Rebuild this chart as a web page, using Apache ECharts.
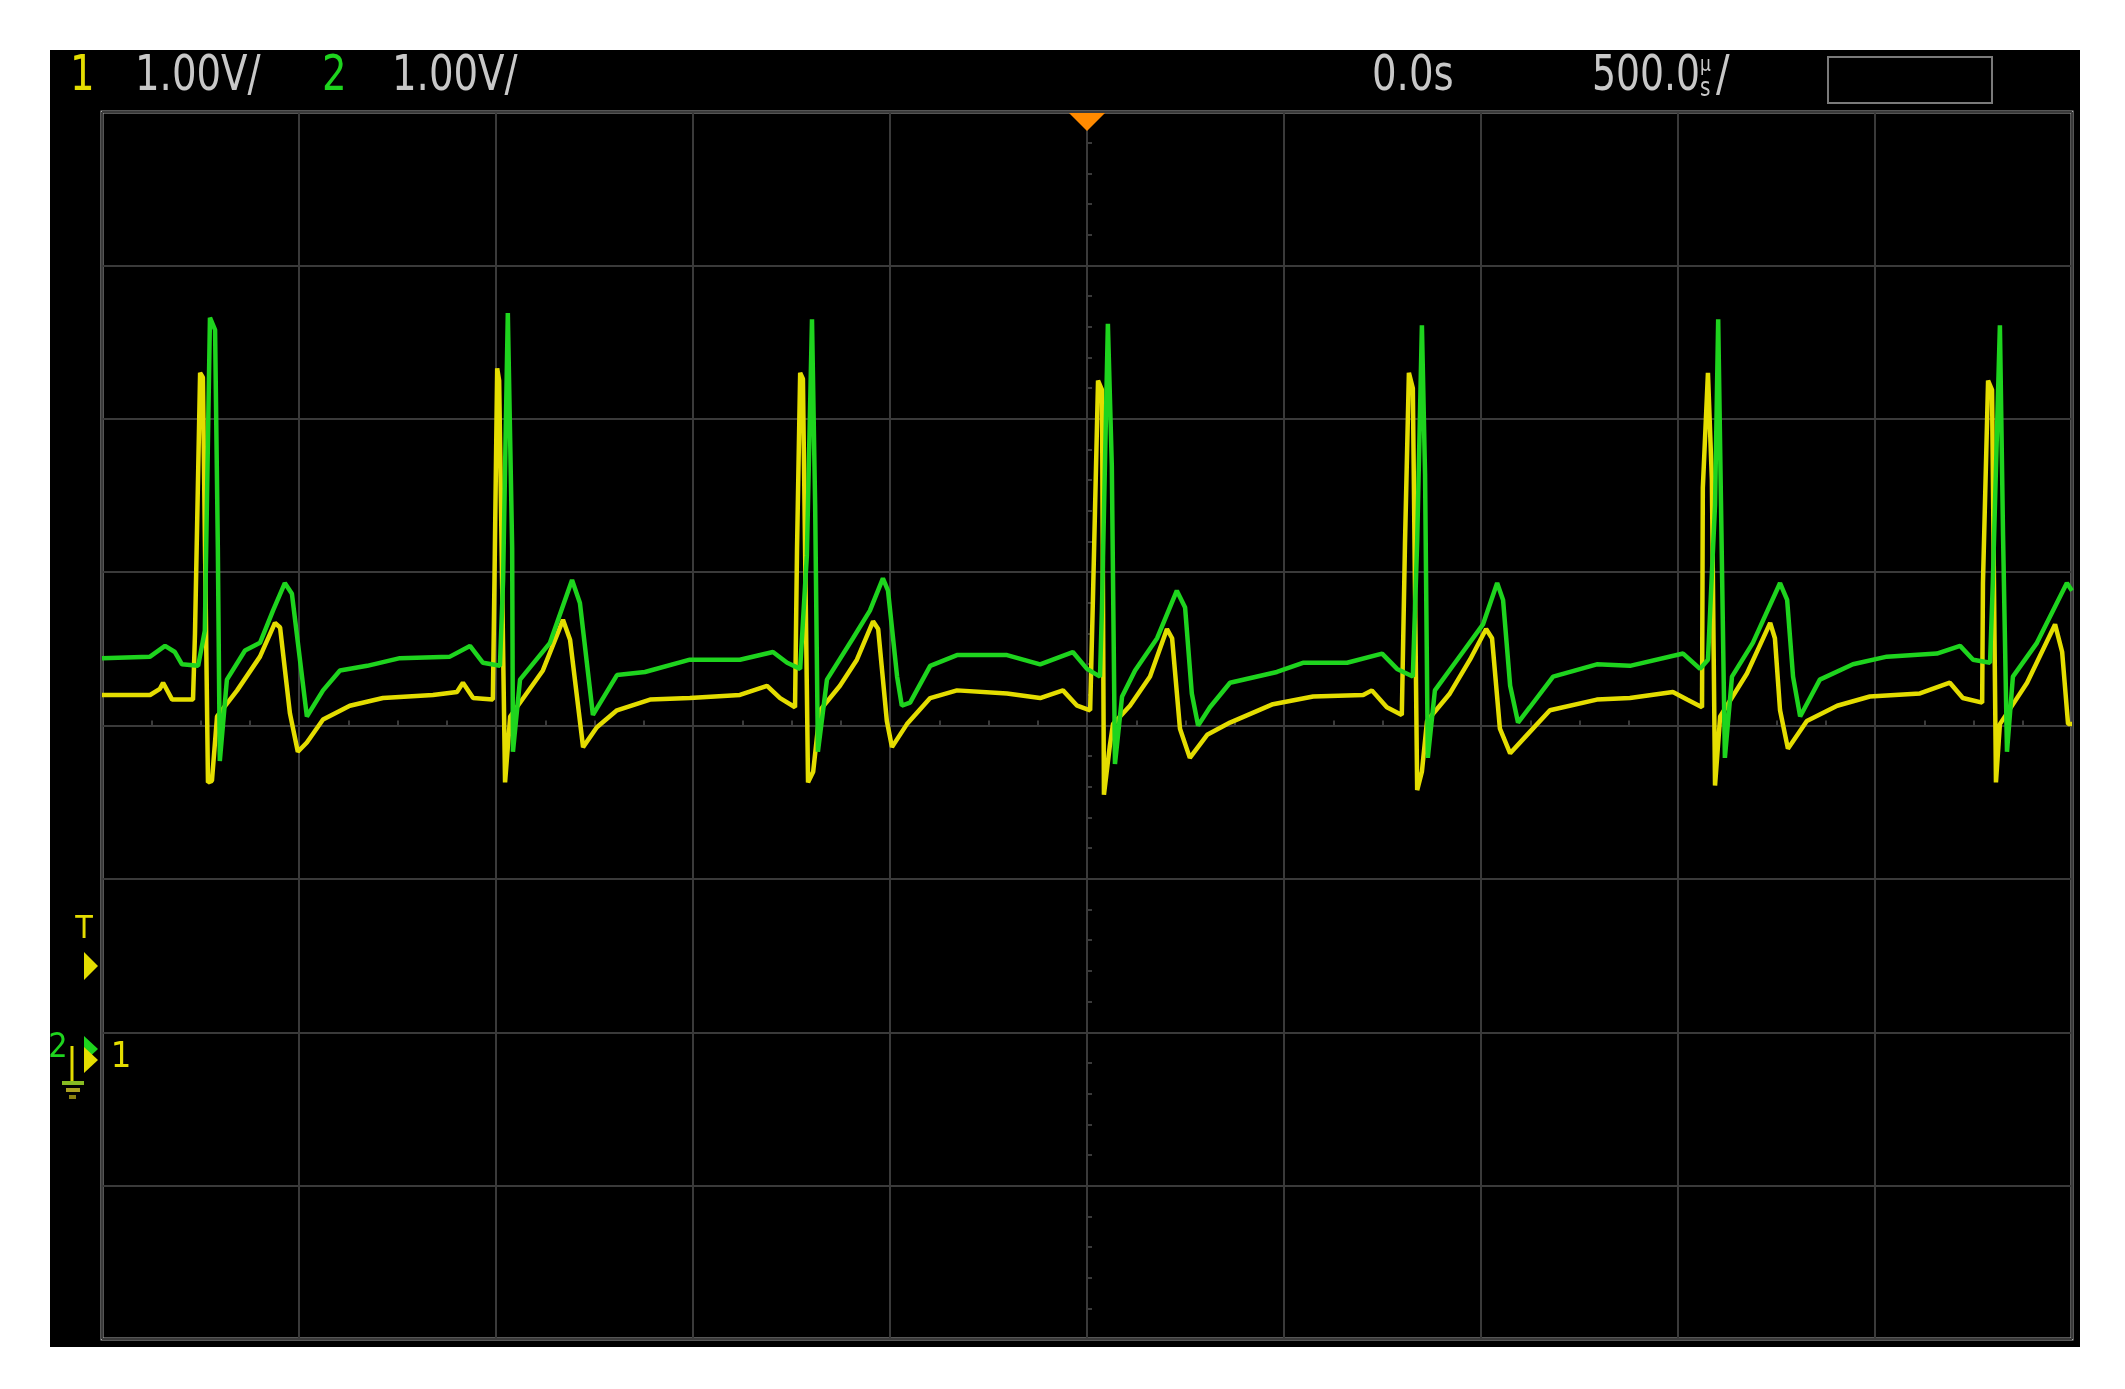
<!DOCTYPE html>
<html>
<head>
<meta charset="utf-8">
<script src="https://cdn.jsdelivr.net/npm/echarts@6.0.0/dist/echarts.min.js"></script>
<style>
  html, body { margin: 0; padding: 0; background: #fff; }
  #scope { position: absolute; left: 50px; top: 50px; width: 2030px; height: 1297px; background: #000; }
  #chart { position: absolute; left: 0; top: 0; width: 2125px; height: 1389px; }
</style>
</head>
<body>
<div id="scope"></div>
<div id="chart"></div>
<script>
// Scope capture: 500 us/div, 1 V/div, both channels grounded at the "1" marker.
// times in ms (centre of screen = 0), values in volts above channel ground.

const ch1Time = [
  -2.500, -2.378, -2.353, -2.345, -2.322, -2.269, -2.264, -2.251, -2.244, -2.231, -2.221, -2.208,
  -2.157, -2.099, -2.061, -2.048, -2.023, -2.003, -1.980, -1.939, -1.871, -1.787, -1.660, -1.599,
  -1.584, -1.558, -1.508, -1.503, -1.497, -1.492, -1.477, -1.464, -1.381, -1.330, -1.312, -1.279,
  -1.244, -1.193, -1.109, -1.008, -0.881, -0.812, -0.779, -0.741, -0.736, -0.728, -0.721, -0.708,
  -0.695, -0.678, -0.627, -0.584, -0.543, -0.530, -0.508, -0.495, -0.457, -0.398, -0.330, -0.203,
  -0.119, -0.061, -0.025, 0.008, 0.015, 0.028, 0.038, 0.043, 0.058, 0.066, 0.109, 0.160,
  0.203, 0.216, 0.236, 0.261, 0.305, 0.363, 0.472, 0.574, 0.701, 0.723, 0.761, 0.799,
  0.807, 0.817, 0.827, 0.838, 0.850, 0.863, 0.921, 0.972, 1.013, 1.028, 1.048, 1.074,
  1.117, 1.175, 1.294, 1.378, 1.487, 1.523, 1.561, 1.563, 1.576, 1.586, 1.594, 1.607,
  1.675, 1.734, 1.746, 1.759, 1.779, 1.827, 1.904, 1.987, 2.114, 2.190, 2.223, 2.272,
  2.274, 2.287, 2.297, 2.307, 2.317, 2.386, 2.457, 2.475, 2.490, 2.500
]
const ch1Volts = [
  2.38, 2.38, 2.42, 2.46, 2.35, 2.35, 2.78, 4.48, 4.45, 1.81, 1.82, 2.24,
  2.41, 2.63, 2.85, 2.82, 2.26, 2.01, 2.07, 2.22, 2.31, 2.36, 2.38, 2.40,
  2.46, 2.36, 2.35, 3.30, 4.51, 4.43, 1.81, 2.24, 2.54, 2.87, 2.74, 2.04,
  2.17, 2.28, 2.35, 2.36, 2.38, 2.44, 2.36, 2.30, 3.33, 4.48, 4.44, 1.81,
  1.88, 2.28, 2.44, 2.61, 2.86, 2.81, 2.21, 2.04, 2.19, 2.36, 2.41, 2.39,
  2.36, 2.41, 2.31, 2.28, 3.00, 4.43, 4.37, 1.73, 2.05, 2.19, 2.31, 2.50,
  2.81, 2.75, 2.16, 1.97, 2.12, 2.20, 2.32, 2.37, 2.38, 2.41, 2.30, 2.25,
  3.36, 4.48, 4.38, 1.76, 1.88, 2.21, 2.39, 2.61, 2.81, 2.75, 2.16, 2.00,
  2.12, 2.28, 2.35, 2.36, 2.40, 2.35, 2.30, 3.73, 4.48, 3.78, 1.79, 2.24,
  2.52, 2.85, 2.75, 2.28, 2.03, 2.21, 2.31, 2.37, 2.39, 2.46, 2.36, 2.33,
  3.11, 4.43, 4.37, 1.81, 2.19, 2.46, 2.84, 2.66, 2.19, 2.19
]

const ch2Time = [
  -2.500, -2.378, -2.340, -2.315, -2.297, -2.256, -2.239, -2.226, -2.213, -2.206, -2.201, -2.183,
  -2.137, -2.099, -2.066, -2.036, -2.018, -1.980, -1.939, -1.896, -1.827, -1.744, -1.617, -1.566,
  -1.533, -1.490, -1.482, -1.470, -1.459, -1.457, -1.439, -1.363, -1.307, -1.287, -1.254, -1.193,
  -1.122, -1.008, -0.881, -0.797, -0.761, -0.728, -0.711, -0.698, -0.690, -0.683, -0.660, -0.594,
  -0.551, -0.518, -0.505, -0.482, -0.470, -0.449, -0.398, -0.330, -0.203, -0.119, -0.036, 0.000,
  0.033, 0.038, 0.053, 0.063, 0.071, 0.089, 0.122, 0.178, 0.228, 0.249, 0.266, 0.282,
  0.312, 0.363, 0.482, 0.548, 0.660, 0.749, 0.787, 0.827, 0.838, 0.850, 0.858, 0.865,
  0.883, 0.954, 1.005, 1.041, 1.056, 1.074, 1.094, 1.124, 1.183, 1.294, 1.378, 1.513,
  1.556, 1.576, 1.594, 1.602, 1.609, 1.619, 1.637, 1.690, 1.759, 1.777, 1.792, 1.810,
  1.860, 1.944, 2.030, 2.157, 2.216, 2.249, 2.292, 2.299, 2.317, 2.325, 2.335, 2.350,
  2.411, 2.487, 2.500
]
const ch2Volts = [
  2.62, 2.63, 2.70, 2.66, 2.58, 2.57, 2.80, 4.84, 4.76, 3.34, 1.95, 2.48,
  2.67, 2.72, 2.93, 3.11, 3.04, 2.24, 2.41, 2.54, 2.57, 2.62, 2.63, 2.70,
  2.59, 2.57, 3.13, 4.87, 3.34, 2.01, 2.48, 2.72, 3.13, 2.98, 2.25, 2.51,
  2.53, 2.61, 2.61, 2.66, 2.59, 2.55, 3.29, 4.83, 3.62, 2.01, 2.48, 2.75,
  2.93, 3.14, 3.06, 2.50, 2.31, 2.33, 2.57, 2.64, 2.64, 2.58, 2.66, 2.55,
  2.50, 2.95, 4.80, 3.87, 1.93, 2.37, 2.54, 2.75, 3.06, 2.95, 2.39, 2.18,
  2.30, 2.46, 2.53, 2.59, 2.59, 2.65, 2.55, 2.50, 3.38, 4.79, 3.82, 1.97,
  2.41, 2.66, 2.84, 3.11, 3.00, 2.44, 2.20, 2.30, 2.50, 2.58, 2.57, 2.65,
  2.55, 2.61, 3.62, 4.83, 3.65, 1.97, 2.50, 2.72, 3.11, 3.00, 2.50, 2.24,
  2.48, 2.58, 2.63, 2.65, 2.70, 2.61, 2.59, 3.11, 4.79, 3.42, 2.01, 2.50,
  2.72, 3.11, 3.06
]

// screen: 10 x 8 divisions, ground sits 2.18 div below centre
const timeRange = [-2.5, 2.5]
const divRange = [-4, 4]
const voltRange = [-1.819, 6.181]

const GRID = '#3a3a3a'
const CH1 = '#e4dd00'
const CH2 = '#1ed41e'
const TEXT = '#c8c8c8'
const FONT = '"Liberation Sans Narrow", "DejaVu Sans Condensed", "Roboto", sans-serif'

const zip = (xs, ys) => xs.map((x, i) => [x, ys[i]])

const centreAxisX = inside => ({
  type: 'value', min: timeRange[0], max: timeRange[1], interval: 0.5,
  axisLine: { onZero: true, onZeroAxisIndex: 0, lineStyle: { color: GRID, width: 2 } },
  axisTick: { show: true, inside, length: 5, lineStyle: { color: GRID, width: 2 } },
  minorTick: { show: true, splitNumber: 4, length: 5, lineStyle: { color: GRID, width: 2 } },
  axisLabel: { show: false },
  splitLine: { show: inside, lineStyle: { color: GRID, width: 2 } },
})
const centreAxisY = inside => ({
  type: 'value', min: divRange[0], max: divRange[1], interval: 1,
  axisLine: { onZero: true, onZeroAxisIndex: 0, lineStyle: { color: GRID, width: 2 } },
  axisTick: { show: true, inside, length: 5, lineStyle: { color: GRID, width: 2 } },
  minorTick: { show: true, splitNumber: 5, length: 5, lineStyle: { color: GRID, width: 2 } },
  axisLabel: { show: false },
  splitLine: { show: inside, lineStyle: { color: GRID, width: 2 } },
})

// scope status font is a narrow one, squeeze the fallback horizontally
const txt = (x, y, text, fill, size, extra, sx) => ({
  type: 'text', z: 100, x, y, scaleX: sx || 1,
  style: Object.assign({ text, fill, font: `${size}px ${FONT}`, textVerticalAlign: 'middle' }, extra || {}),
})
const tri = (points, fill) => ({ type: 'polygon', z: 100, shape: { points }, style: { fill } })

const chart = echarts.init(document.getElementById('chart'), null, { renderer: 'canvas' })
chart.setOption({
  animation: false,
  backgroundColor: 'transparent',
  grid: { left: 102, top: 112, width: 1970, height: 1227, show: true, borderColor: '#ababab', borderWidth: 3 },
  xAxis: [centreAxisX(true), centreAxisX(false)],
  yAxis: [
    centreAxisY(true),
    { type: 'value', min: voltRange[0], max: voltRange[1], show: false },
    centreAxisY(false),
  ],
  series: [
    {
      name: '1', type: 'line', xAxisIndex: 0, yAxisIndex: 1, data: zip(ch1Time, ch1Volts),
      showSymbol: false, lineStyle: { color: CH1, width: 4.5 }, z: 5,
    },
    {
      name: '2', type: 'line', xAxisIndex: 0, yAxisIndex: 1, data: zip(ch2Time, ch2Volts),
      showSymbol: false, lineStyle: { color: CH2, width: 4.5 }, z: 6,
    },
  ],
  graphic: [
    // status bar
    txt(70, 77, '1', CH1, 50, null, 0.86),
    txt(135, 77, '1.00V/', TEXT, 50, null, 0.86),
    txt(322, 77, '2', CH2, 50, null, 0.86),
    txt(392, 77, '1.00V/', TEXT, 50, null, 0.86),
    txt(1372, 77, '0.0s', TEXT, 50, null, 0.86),
    txt(1592, 77, '500.0', TEXT, 50, null, 0.84),
    txt(1700, 65, 'µ', TEXT, 22, null, 0.86),
    txt(1700, 89, 's', TEXT, 26, null, 0.86),
    txt(1716, 77, '/', TEXT, 50, null, 0.9),
    { type: 'rect', z: 100, shape: { x: 1828, y: 57, width: 164, height: 46 }, style: { fill: 'none', stroke: '#7a7a7a', lineWidth: 2 } },
    // trigger position
    tri([[1069, 113], [1105, 113], [1087, 131]], '#ff8a00'),
    // trigger level
    txt(84, 930, 'T', CH1, 32, { textAlign: 'center' }),
    tri([[84, 952], [98, 966], [84, 980]], CH1),
    // channel ground markers
    txt(58, 1048, '2', CH2, 34, { textAlign: 'center' }),
    tri([[84, 1036], [98, 1049], [84, 1062]], CH2),
    tri([[84, 1047], [98, 1060], [84, 1073]], CH1),
    { type: 'line', z: 100, shape: { x1: 72, y1: 1046, x2: 72, y2: 1082 }, style: { stroke: CH1, lineWidth: 3 } },
    { type: 'line', z: 100, shape: { x1: 62, y1: 1083, x2: 84, y2: 1083 }, style: { stroke: '#88bb22', lineWidth: 4 } },
    { type: 'line', z: 100, shape: { x1: 66, y1: 1090, x2: 80, y2: 1090 }, style: { stroke: '#aaa020', lineWidth: 4 } },
    { type: 'line', z: 100, shape: { x1: 69, y1: 1097, x2: 76, y2: 1097 }, style: { stroke: '#8a8010', lineWidth: 4 } },
    txt(121, 1058, '1', CH1, 36, { textAlign: 'center' }),
  ],
})
</script>
</body>
</html>
